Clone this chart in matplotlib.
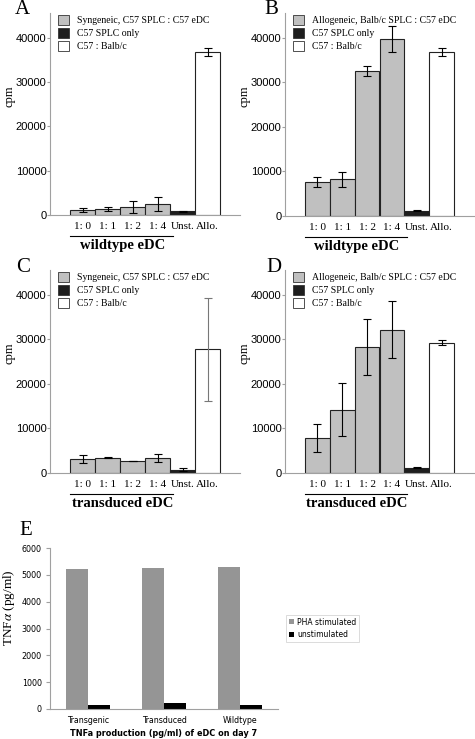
import matplotlib
matplotlib.use("Agg")
import matplotlib.pyplot as plt
from matplotlib.patches import Patch
import numpy as np

plt.rcParams["mathtext.fontset"] = "stix"

# --- data ---
ratio_labels = ["1: 0", "1: 1", "1: 2", "1: 4", "Unst.", "Allo."]

a_vals = [1050, 1350, 1750, 2400, 850, 36900]
a_err = [450, 450, 1300, 1600, 150, 900]
b_vals = [7700, 8200, 32600, 39700, 1200, 36900]
b_err = [1100, 1750, 1200, 2950, 100, 900]
c_vals = [3150, 3450, 2700, 3300, 750, 27800]
c_err = [900, 150, 100, 900, 400, 11600]
d_vals = [7900, 14200, 28300, 32200, 1200, 29250]
d_err = [3100, 6000, 6300, 6350, 100, 600]

syn_label = "Syngeneic, C57 SPLC : C57 eDC"
allo_label = "Allogeneic, Balb/c SPLC : C57 eDC"
unst_label = "C57 SPLC only"
ctrl_label = "C57 : Balb/c"

e_groups = ["Transgenic", "Transduced", "Wildtype"]
e_pha = [5220, 5270, 5300]
e_unstim = [160, 220, 140]

SERIF = "Liberation Serif"
SANS = "Liberation Sans"
GRID = "#a0a0a0"

W, H = 475, 739
fig = plt.figure(figsize=(W / 100, H / 100), dpi=100)


def ax_px(left, right, bottom, top):
    return fig.add_axes([left / W, 1 - bottom / H, (right - left) / W, (bottom - top) / H])


def cpm_panel(ax, vals, errs, first_label, group_label, err_colors):
    x = np.arange(len(vals))
    colors = ["#c0c0c0"] * 4 + ["#1e1e1e", "white"]
    ax.bar(x, vals, width=1.0, color=colors, edgecolor="#222222", linewidth=0.8, zorder=2)
    for xi, v, e, ec in zip(x, vals, errs, err_colors):
        ax.errorbar(xi, v, yerr=e, color=ec, capsize=3, elinewidth=0.8, capthick=0.8, zorder=3)
    ax.set_xlim(-1.3, 6.3)
    ax.set_ylim(0, 45600)
    ax.set_yticks([0, 10000, 20000, 30000, 40000])
    ax.tick_params(axis="y", labelsize=8, length=2, color=GRID, pad=0.5)
    for t in ax.get_yticklabels():
        t.set_fontfamily(SANS)
    ax.set_xticks(x)
    ax.set_xticklabels(ratio_labels, fontfamily=SERIF, fontsize=8)
    ax.tick_params(axis="x", length=0, pad=5)
    for s in ["top", "right"]:
        ax.spines[s].set_visible(False)
    for s in ["left", "bottom"]:
        ax.spines[s].set_color(GRID)
        ax.spines[s].set_linewidth(0.8)
    ax.set_ylabel("cpm", fontfamily=SERIF, fontsize=9)
    ax.yaxis.set_label_coords(-0.18, 0.59)
    trans = ax.get_xaxis_transform()
    ax.plot([-0.5, 3.6], [-0.105, -0.105], color="black", lw=0.8, transform=trans, clip_on=False)
    ax.text(1.6, -0.152, group_label, transform=trans, ha="center", va="center",
            fontfamily=SERIF, fontweight="bold", fontsize=10.5)
    handles = [Patch(facecolor="#c0c0c0", edgecolor="#333333", lw=0.6, label=first_label),
               Patch(facecolor="#1e1e1e", edgecolor="#333333", lw=0.6, label=unst_label),
               Patch(facecolor="white", edgecolor="#333333", lw=0.6, label=ctrl_label)]
    ax.legend(handles=handles, loc="upper left", bbox_to_anchor=(0.01, 1.02), frameon=False,
              prop={"family": SERIF, "size": 7}, handlelength=1.2, handleheight=1.2,
              handletextpad=0.8, labelspacing=0.3, borderaxespad=0.2)


black = ["black"] * 6
axA = ax_px(50, 240, 215, 13)
cpm_panel(axA, a_vals, a_err, syn_label, "wildtype eDC", black)
axB = ax_px(285, 474, 216, 13)
cpm_panel(axB, b_vals, b_err, allo_label, "wildtype eDC", black)
axC = ax_px(50, 240, 473, 270)
cpm_panel(axC, c_vals, c_err, syn_label, "transduced eDC", black[:5] + ["#777777"])
axD = ax_px(285, 474, 473, 270)
cpm_panel(axD, d_vals, d_err, allo_label, "transduced eDC", black)

for letter, lx, ly in [("A", 15, 0), ("B", 264, 0), ("C", 16, 258), ("D", 266, 258), ("E", 19, 521)]:
    fig.text(lx / W, 1 - ly / H, letter, fontfamily=SERIF, fontsize=15, va="top", ha="left")

# --- panel E ---
axE = ax_px(50, 278, 709, 548)
xe = np.arange(len(e_groups))
w = 0.29
axE.bar(xe - w / 2, e_pha, width=w, color="#959595", label="PHA stimulated", zorder=2)
axE.bar(xe + w / 2, e_unstim, width=w, color="black", label="unstimulated", zorder=2)
axE.set_xlim(-0.5, 2.5)
axE.set_ylim(0, 6000)
axE.set_yticks(range(0, 6001, 1000))
axE.set_xticks(xe)
axE.set_xticklabels(e_groups, fontfamily="DejaVu Sans", fontsize=5.7)
axE.tick_params(axis="x", length=0, pad=5)
axE.tick_params(axis="y", labelsize=5.8, length=3, color=GRID, pad=3)
for t in axE.get_yticklabels():
    t.set_fontfamily("DejaVu Sans")
for s in ["top", "right"]:
    axE.spines[s].set_visible(False)
for s in ["left", "bottom"]:
    axE.spines[s].set_color(GRID)
    axE.spines[s].set_linewidth(0.8)
axE.set_xlabel("TNFa production (pg/ml) of eDC on day 7", fontfamily="DejaVu Sans",
               fontsize=5.9, fontweight="bold", labelpad=3)
fig.text(9 / W, 1 - 608 / H, "TNF$\\alpha$ (pg/ml)", fontfamily=SERIF, fontsize=9.5,
         rotation=90, ha="center", va="center")
legE = axE.legend(loc="center left", bbox_to_anchor=(1.02, 0.5), prop={"family": "DejaVu Sans", "size": 5.5},
                  handlelength=0.6, handleheight=0.6, handletextpad=0.4, labelspacing=0.5,
                  fancybox=False, edgecolor="#cccccc", borderpad=0.4)
legE.get_frame().set_linewidth(0.6)

fig.savefig("out.png", dpi=100)
